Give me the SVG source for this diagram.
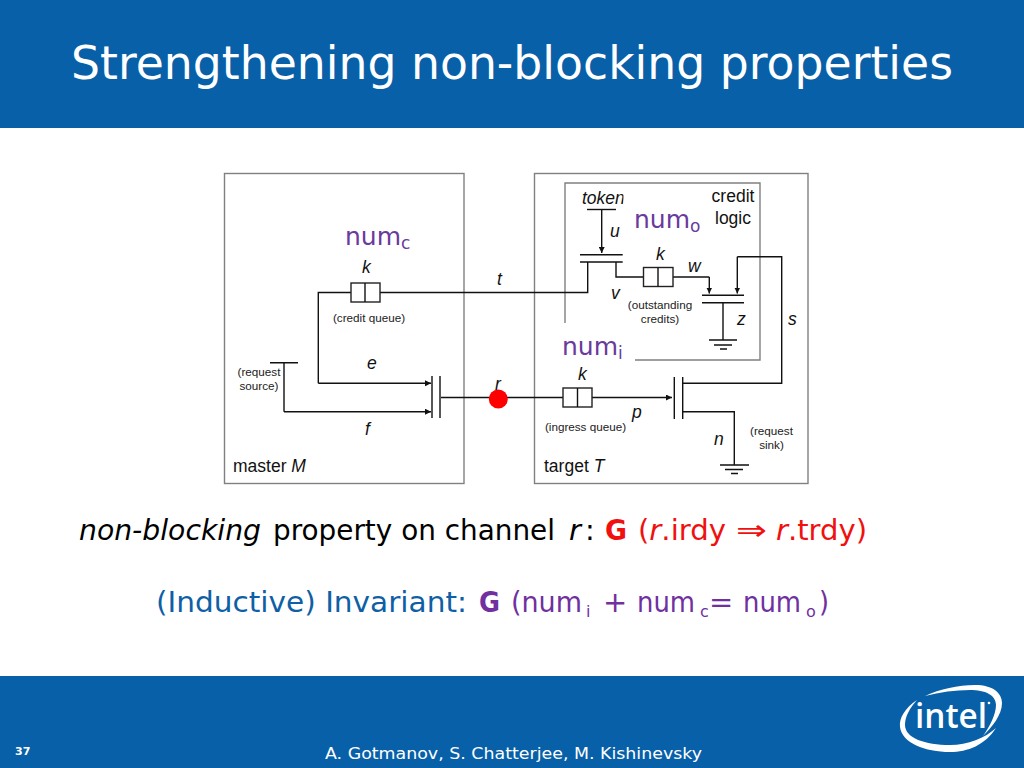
<svg xmlns="http://www.w3.org/2000/svg" width="1024" height="768" viewBox="0 0 1024 768">
<style>
.v{font-family:"DejaVu Sans",Verdana,sans-serif}
.a{font-family:"Liberation Sans",Arial,sans-serif;fill:#111}
.i{font-style:italic;font-size:17.5px}
.l{font-size:17.5px}
.s{font-size:11.7px;text-anchor:middle;fill:#222}
.n{font-family:"DejaVu Sans",sans-serif;font-size:25px;fill:#6a3a9c}
.sub{font-size:17px}
.box{fill:none;stroke:#808080;stroke-width:1.4}
.w{fill:none;stroke:#111;stroke-width:1.4}
.ar{fill:none;stroke:#111;stroke-width:1.4;marker-end:url(#ah)}
.q{fill:#fff;stroke:#222;stroke-width:1.4}
.b{font-size:29px;fill:#000}
.sb{font-size:16px}
.red{fill:#f01010}
.blue{fill:#0f5fa6}
.pur{fill:#7030a0}
</style>
<defs>
<marker id="ah" viewBox="0 0 6 6" refX="6" refY="3" markerWidth="6" markerHeight="6" markerUnits="userSpaceOnUse" orient="auto"><path d="M0,0 L6,3 L0,6 Z" fill="#111"/></marker>
</defs>
<rect width="1024" height="768" fill="#fff"/>
<rect id="header" width="1024" height="128" fill="#0860a8"/>
<rect id="footer" y="676" width="1024" height="92" fill="#0860a8"/>
<text class="v" x="71" y="79" font-size="46" fill="#fff" textLength="882" lengthAdjust="spacingAndGlyphs">Strengthening non-blocking properties</text>
<text class="v" x="15" y="755" font-size="11" font-weight="bold" fill="#fff">37</text>
<text class="v" x="325" y="759" font-size="16" fill="#fff" textLength="377" lengthAdjust="spacingAndGlyphs">A. Gotmanov, S. Chatterjee, M. Kishinevsky</text>

<g id="intel-logo" fill="#fff">
<path d="M917,700 C905,708 899,718 900,727 C902,743 925,752 950,752 C968,752 985,745 996,728 C985,738 968,745 950,745 C925,745 905,738 905,725 C905,716 910,708 917,700 Z"/>
<path d="M925,696 C940,689 958,685 975,685 C993,685 1002,693 1002,703 C1002,715 992,727 983,736 C990,726 996,714 996,705 C996,695 985,690 970,690 C955,690 940,692 925,696 Z"/>
<text x="915" y="728" font-family="'Open Sans',sans-serif" font-size="34" font-weight="600" textLength="72" lengthAdjust="spacingAndGlyphs">intel</text>
<circle cx="989" cy="703" r="1.3"/>
</g>

<g id="master"><rect class="box" x="224.5" y="173.5" width="239.5" height="310"/>
<text class="a l" x="233" y="472">master <tspan font-style="italic">M</tspan></text></g>
<g id="target"><rect class="box" x="534.5" y="173.5" width="273.5" height="310"/>
<text class="a l" x="544" y="472">target <tspan font-style="italic">T</tspan></text></g>
<g id="credit-logic"><path class="box" d="M565,323 V183 H760 V360 H635"/>
<text class="a l" x="733" y="202" text-anchor="middle">credit</text>
<text class="a l" x="733" y="224" text-anchor="middle">logic</text></g>

<g id="connectors">
<path class="w" d="M351,292.5 H318.3 V383.3"/>
<path class="ar" d="M318.3,383.3 H431"/>
<path class="w" d="M270,362.7 H298 M284,362.7 V411.7"/>
<path class="ar" d="M284,411.7 H431"/>
<path class="w" d="M380,292.5 H587.7 V262"/>
<path class="w" d="M441,397.5 H563"/>
<path class="ar" d="M592,397.5 H672"/>
<path class="w" d="M432,376 V418 M440,376 V418"/>
<path class="w" d="M674.3,377 V419 M682.7,377 V419"/>
<path class="w" d="M683,383.3 H781.7 V256.7 H737.3"/>
<path class="ar" d="M737.3,256.7 V293.5"/>
<path class="w" d="M683,411.7 H734.3 V465 M720,465 H749 M725,469.5 H743 M731,473.5 H738"/>
<path class="w" d="M587,209.5 H616"/>
<path class="ar" d="M601.7,209.5 V253"/>
<path class="w" d="M580,254.7 H622.7 M580,262 H622.7"/>
<path class="w" d="M616,262 V277 H643.3"/>
<path class="w" d="M673,277 H709.3"/>
<path class="ar" d="M709.3,277 V293.5"/>
<path class="w" d="M702,295.3 H744 M702,302.7 H744 M723,302.7 V340 M709,340 H737 M714,345 H732 M720,349 H727"/>
</g>

<g id="credit-queue"><rect class="q" x="351" y="283" width="29" height="19"/><path class="w" d="M365,283 V302"/>
<text class="a i" x="362" y="273">k</text><text class="a s" x="369" y="322">(credit queue)</text></g>
<g id="outstanding-queue"><rect class="q" x="643.5" y="267.5" width="29.5" height="19"/><path class="w" d="M658,267.5 V286.5"/>
<text class="a i" x="656" y="260">k</text><text class="a s" x="660" y="309">(outstanding</text><text class="a s" x="660" y="323">credits)</text></g>
<g id="ingress-queue"><rect class="q" x="563" y="388" width="29" height="19"/><path class="w" d="M577.5,388 V407"/>
<text class="a i" x="578" y="380">k</text><text class="a s" x="585.5" y="431">(ingress queue)</text></g>
<g id="token"><text class="a i" x="582" y="204">token</text><rect x="623.5" y="186" width="70" height="50" fill="#fff"/></g>
<g id="request-source"><text class="a s" x="259" y="376">(request</text><text class="a s" x="259" y="390">source)</text></g>
<g id="request-sink"><text class="a s" x="771.5" y="435">(request</text><text class="a s" x="771.5" y="449">sink)</text></g>
<g id="channel-r"><circle cx="498.3" cy="399" r="9.5" fill="#f00"/><text class="a i" x="495" y="390">r</text></g>

<g id="wire-labels" class="a i">
<text x="497" y="285">t</text><text x="367" y="369">e</text><text x="365" y="435">f</text>
<text x="632" y="418">p</text><text x="714" y="445">n</text><text x="788" y="325">s</text>
<text x="737" y="325">z</text><text x="611" y="299">v</text><text x="610" y="237">u</text><text x="688" y="272">w</text>
</g>
<g id="counters">
<text class="n" x="345" y="245">num<tspan class="sub" dy="4">c</tspan></text>
<text class="n" x="634" y="228">num<tspan class="sub" dy="4">o</tspan></text>
<text class="n" x="562" y="355">num<tspan class="sub" dy="4">i</tspan></text>
</g>

<g id="property" class="v b">
<text x="79" y="540" font-style="italic" textLength="182" lengthAdjust="spacingAndGlyphs">non-blocking</text>
<text x="273" y="540" textLength="282" lengthAdjust="spacingAndGlyphs">property on channel</text>
<text x="569" y="540" font-style="italic">r</text><text x="585" y="540">:</text>
<text x="605" y="540" class="red" font-weight="bold" textLength="22" lengthAdjust="spacingAndGlyphs">G</text>
<text x="638" y="540" class="red" textLength="88" lengthAdjust="spacingAndGlyphs">(<tspan font-style="italic">r</tspan>.irdy</text>
<text x="736" y="540" class="red" textLength="31" lengthAdjust="spacingAndGlyphs">⇒</text>
<text x="776" y="540" class="red" textLength="91" lengthAdjust="spacingAndGlyphs"><tspan font-style="italic">r</tspan>.trdy)</text>
</g>
<g id="invariant" class="v b">
<text x="156" y="612" class="blue" textLength="311" lengthAdjust="spacingAndGlyphs">(Inductive) Invariant:</text>
<text x="479" y="612" class="pur" font-weight="bold" textLength="21" lengthAdjust="spacingAndGlyphs">G</text>
<text x="511" y="612" class="pur" textLength="71" lengthAdjust="spacingAndGlyphs">(num</text>
<text x="586" y="617" class="pur sb">i</text>
<text x="603" y="612" class="pur">+</text>
<text x="637" y="612" class="pur" textLength="58" lengthAdjust="spacingAndGlyphs">num</text>
<text x="700" y="617" class="pur sb">c</text>
<text x="709" y="612" class="pur">=</text>
<text x="743" y="612" class="pur" textLength="58" lengthAdjust="spacingAndGlyphs">num</text>
<text x="806" y="617" class="pur sb">o</text>
<text x="819" y="612" class="pur" textLength="10" lengthAdjust="spacingAndGlyphs">)</text>
</g>
</svg>
